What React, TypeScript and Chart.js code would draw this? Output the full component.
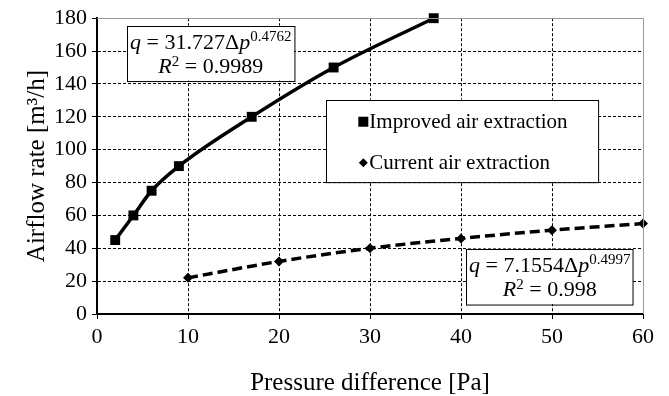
import React, { useEffect, useRef } from "react";
import { Chart, registerables } from "chart.js";

Chart.register(...registerables);

const improvedX = [2, 4, 6, 9, 17, 26, 37];
const improvedY = [45, 60, 75, 90, 120, 150, 180];
const currentX = [10, 20, 30, 40, 50, 60];
const currentY = [22, 32, 40, 46, 51, 55];
const seriesNames = ["Improved air extraction", "Current air extraction"];
const xTitle = "Pressure difference [Pa]";
const yTitle = "Airflow rate [m³/h]";
const eq1 = { coef: "31.727", exp: "0.4762", r2: "0.9989" };
const eq2 = { coef: "7.1554", exp: "0.4997", r2: "0.998" };

const SERIF = "'Liberation Serif', 'Times New Roman', serif";

function drawEquation(ctx: CanvasRenderingContext2D, box: { x: number; y: number; w: number; h: number }, eq: { coef: string; exp: string; r2: string }) {
  ctx.save();
  ctx.fillStyle = "#fff";
  ctx.fillRect(box.x, box.y, box.w, box.h);
  ctx.strokeStyle = "#000";
  ctx.lineWidth = 1;
  ctx.strokeRect(Math.round(box.x) + 0.5, Math.round(box.y) + 0.5, box.w, box.h);
  ctx.fillStyle = "#000";
  ctx.textBaseline = "alphabetic";
  const fs = 22;
  const supFs = 15;
  const parts: [string, string][] = [
    ["i", "q"],
    ["n", " = " + eq.coef + "Δ"],
    ["i", "p"],
    ["s", eq.exp],
  ];
  const fontOf = (k: string) =>
    k === "i" ? `italic ${fs}px ${SERIF}` : k === "s" ? `${supFs}px ${SERIF}` : `${fs}px ${SERIF}`;
  let total = 0;
  for (const [k, t] of parts) {
    ctx.font = fontOf(k);
    total += ctx.measureText(t).width;
  }
  let x = box.x + (box.w - total) / 2;
  const base1 = box.y + box.h * 0.42;
  for (const [k, t] of parts) {
    ctx.font = fontOf(k);
    ctx.fillText(t, x, k === "s" ? base1 - 8 : base1);
    x += ctx.measureText(t).width;
  }
  const parts2: [string, string][] = [
    ["i", "R"],
    ["s", "2"],
    ["n", " = " + eq.r2],
  ];
  total = 0;
  for (const [k, t] of parts2) {
    ctx.font = fontOf(k);
    total += ctx.measureText(t).width;
  }
  x = box.x + (box.w - total) / 2;
  const base2 = box.y + box.h * 0.86;
  for (const [k, t] of parts2) {
    ctx.font = fontOf(k);
    ctx.fillText(t, x, k === "s" ? base2 - 7 : base2);
    x += ctx.measureText(t).width;
  }
  ctx.restore();
}

const overlayPlugin = {
  id: "overlay",
  afterDraw(chart: any) {
    const ctx: CanvasRenderingContext2D = chart.ctx;
    const xs = chart.scales.x;
    const ys = chart.scales.y;
    const area = chart.chartArea;
    ctx.save();
    ctx.strokeStyle = "#9a9a9a";
    ctx.lineWidth = 1;
    ctx.beginPath();
    ctx.moveTo(area.left, Math.round(area.top) + 0.5);
    ctx.lineTo(area.right, Math.round(area.top) + 0.5);
    ctx.moveTo(Math.round(area.right) + 0.5, area.top);
    ctx.lineTo(Math.round(area.right) + 0.5, area.bottom);
    ctx.stroke();
    ctx.restore();

    const b1x = xs.getPixelForValue(3.3);
    const b1y = ys.getPixelForValue(175.5);
    drawEquation(ctx, { x: b1x, y: b1y, w: xs.getPixelForValue(21.7) - b1x, h: ys.getPixelForValue(142) - b1y }, eq1);
    const b2x = xs.getPixelForValue(40.6);
    const b2y = ys.getPixelForValue(39.8);
    drawEquation(ctx, { x: b2x, y: b2y, w: xs.getPixelForValue(58.9) - b2x, h: ys.getPixelForValue(6) - b2y }, eq2);

    const lx = xs.getPixelForValue(25.2);
    const ly = ys.getPixelForValue(130.5);
    const lw = xs.getPixelForValue(55.1) - lx;
    const lh = ys.getPixelForValue(80.5) - ly;
    ctx.save();
    ctx.fillStyle = "#fff";
    ctx.fillRect(lx, ly, lw, lh);
    ctx.strokeStyle = "#000";
    ctx.lineWidth = 1;
    ctx.strokeRect(Math.round(lx) + 0.5, Math.round(ly) + 0.5, lw, lh);
    ctx.fillStyle = "#000";
    ctx.font = `21px ${SERIF}`;
    ctx.textBaseline = "middle";
    const mx = lx + 37;
    const y1 = ly + lh * 0.27;
    const y2 = ly + lh * 0.77;
    ctx.fillRect(mx - 5, y1 - 5, 10, 10);
    ctx.beginPath();
    ctx.moveTo(mx, y2 - 4.5);
    ctx.lineTo(mx + 4.5, y2);
    ctx.lineTo(mx, y2 + 4.5);
    ctx.lineTo(mx - 4.5, y2);
    ctx.closePath();
    ctx.fill();
    ctx.fillText(seriesNames[0], mx + 6, y1 + 1);
    ctx.fillText(seriesNames[1], mx + 6, y2 + 1);
    ctx.restore();
  },
};

export default function App() {
  const ref = useRef<HTMLCanvasElement | null>(null);
  useEffect(() => {
    document.body.style.margin = "0";
    const canvas = ref.current;
    if (!canvas) return;
    const chart = new Chart(canvas, {
      type: "scatter",
      data: {
        datasets: [
          {
            label: seriesNames[0],
            data: improvedX.map((x, i) => ({ x, y: improvedY[i] })),
            showLine: true,
            borderColor: "#000",
            backgroundColor: "#000",
            borderWidth: 3.5,
            cubicInterpolationMode: "monotone",
            pointStyle: "rect",
            pointRadius: 7,
            pointBorderWidth: 0,
            clip: false,
          },
          {
            label: seriesNames[1],
            data: currentX.map((x, i) => ({ x, y: currentY[i] })),
            showLine: true,
            borderColor: "#000",
            backgroundColor: "#000",
            borderWidth: 3.5,
            borderDash: [10, 5],
            cubicInterpolationMode: "monotone",
            pointStyle: "rectRot",
            pointRadius: 5,
            pointBorderWidth: 0,
            clip: false,
          },
        ],
      },
      options: {
        animation: false,
        responsive: false,
        devicePixelRatio: 1,
        layout: { padding: { top: 15, right: 26, left: 0, bottom: 0 } },
        plugins: { legend: { display: false }, tooltip: { enabled: false } },
        scales: {
          x: {
            type: "linear",
            min: 0,
            max: 60,
            ticks: { stepSize: 10, color: "#000", font: { family: SERIF, size: 22 }, padding: 5 },
            grid: {
              color: (c: any) => (c.tick && c.tick.value === 60 ? "rgba(0,0,0,0)" : "#000"),
              tickColor: "#000",
              tickLength: 5,
              lineWidth: 1,
            },
            border: { display: true, color: "#000", width: 2, dash: [3, 2] },
            title: { display: true, text: xTitle, color: "#000", font: { family: SERIF, size: 25 }, padding: { top: 0, bottom: -2 } },
            afterFit: (s: any) => {
              s.height = 82;
            },
          },
          y: {
            type: "linear",
            min: 0,
            max: 180,
            ticks: { stepSize: 20, color: "#000", font: { family: SERIF, size: 22 }, padding: 5 },
            grid: {
              color: (c: any) => (c.tick && c.tick.value === 180 ? "rgba(0,0,0,0)" : "#000"),
              tickColor: "#000",
              tickLength: 5,
              lineWidth: 1,
            },
            border: { display: true, color: "#000", width: 2, dash: [3, 2] },
            title: { display: true, text: yTitle, color: "#000", font: { family: SERIF, size: 25 }, padding: { top: 22, bottom: 0 } },
            afterFit: (s: any) => {
              s.width = 97;
            },
          },
        },
      },
      plugins: [overlayPlugin],
    } as any);
    return () => chart.destroy();
  }, []);
  return (
    <div style={{ width: 669, height: 396 }}>
      <canvas ref={ref} width={669} height={396} style={{ display: "block" }} />
    </div>
  );
}
